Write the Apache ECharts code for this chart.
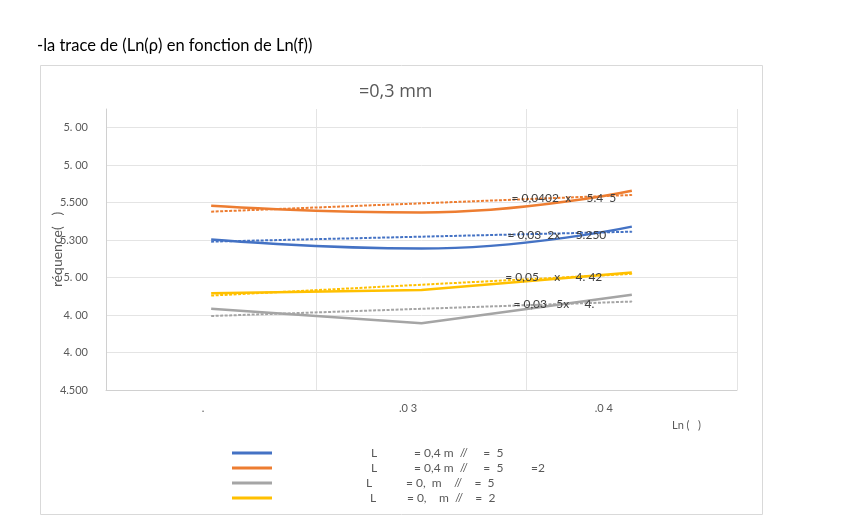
<!DOCTYPE html>
<html>
<head>
<meta charset="utf-8">
<script src="https://cdn.jsdelivr.net/npm/echarts@6/dist/echarts.min.js"></script>
<style>
  html, body { margin: 0; padding: 0; background: #fff; }
  #chart { width: 841px; height: 525px; }
</style>
</head>
<body>
<div id="chart"></div>
<script>
// categories (x) and tick labels, as they show up in the document
const categories = ['.', '.0 3', '.0 4']
const yTickLabels = ['4.500', '4. 00', '4. 00', '5. 00', '5.300', '5.500', '5. 00', '5. 00']

const seriesNames = [
  'L            = 0,4 m  //     =  5',
  'L            = 0,4 m  //     =  5         =2',
  'L           = 0,  m    //    =  5',
  'L          = 0,    m  //    =  2',
]
const seriesColors = ['#4472C4', '#ED7D31', '#A5A5A5', '#FFC000']

// measured values
const blueValues = [5.303, 5.255, 5.372]
const orangeValues = [5.483, 5.448, 5.564]
const grayValues = [4.934, 4.856, 5.008]
const yellowValues = [5.017, 5.034, 5.127]

// trend lines, value at first and last category
const blueTrend = [5.292, 5.345]
const orangeTrend = [5.452, 5.541]
const grayTrend = [4.895, 4.972]
const yellowTrend = [5.004, 5.120]

const trendLabels = [
  '= 0,03  2x     5.250',
  '= 0,0402  x     5.4  5',
  '= 0,03   5x     4.',
  '= 0,05     x     4. 42',
]

const values = [blueValues, orangeValues, grayValues, yellowValues]
const trends = [blueTrend, orangeTrend, grayTrend, yellowTrend]
const smooth = [true, true, false, false]
const labelShift = [25, 15, 37, 29]
const xLabelPad = [16, 27, 56]
const legendPad = [94, 94, 89, 93]

const font = 'Lato, "Noto Sans", sans-serif'
const myChart = echarts.init(document.getElementById('chart'))

const series = []
values.forEach((v, i) => {
  series.push({
    name: seriesNames[i],
    type: 'line',
    data: v,
    smooth: smooth[i],
    symbol: 'none',
    color: seriesColors[i],
    lineStyle: { width: 2.5, color: seriesColors[i] },
    z: 3,
  })
})
trends.forEach((t, i) => {
  series.push({
    name: 'trend' + i,
    type: 'line',
    data: [
      [0, t[0]],
      {
        value: [2, t[1]],
        symbol: 'circle',
        symbolSize: 1,
        label: {
          show: true,
          position: 'left',
          distance: labelShift[i],
          offset: [0, 3],
          formatter: trendLabels[i],
          color: '#404040',
          fontSize: 12,
          fontFamily: font,
        },
      },
    ],
    symbol: 'none',
    color: seriesColors[i],
    lineStyle: { width: 2, type: [3, 1.5], color: seriesColors[i] },
    silent: true,
    z: 4,
  })
})

const option = {
  animation: false,
  title: [
    {
      text: '-la trace de (Ln(ρ) en fonction de Ln(f))',
      left: 32,
      top: 32,
      textStyle: { color: '#000', fontSize: 16.5, fontWeight: 'normal', fontFamily: font },
    },
    {
      text: '=0,3 mm',
      left: 354,
      top: 78,
      textStyle: { color: '#595959', fontSize: 18, fontWeight: 'normal', fontFamily: '"Open Sans", sans-serif' },
    },
  ],
  grid: { left: 106, right: 104, top: 109, bottom: 135 },
  legend: {
    orient: 'vertical',
    left: 232,
    top: 447,
    padding: 0,
    itemWidth: 40,
    itemHeight: 13,
    itemGap: 3,
    icon: 'path://M0,0 L40,0 L40,3 L0,3 Z',
    data: seriesNames.map((n, i) => ({
      name: n,
      textStyle: { padding: [0, 0, 0, legendPad[i]] },
    })),
    textStyle: { color: '#595959', fontSize: 12, fontFamily: font },
    selectedMode: false,
  },
  xAxis: {
    type: 'category',
    data: categories.map((c, i) => ({ value: c, textStyle: { padding: [0, xLabelPad[i], 0, 0] } })),
    boundaryGap: true,
    axisLine: { lineStyle: { color: '#d0d0d0' } },
    axisTick: { show: false },
    axisLabel: { color: '#595959', fontSize: 11, margin: 13, fontFamily: font },
    splitLine: { show: true, lineStyle: { color: '#e4e4e4' } },
  },
  yAxis: {
    type: 'value',
    min: 4.5,
    max: 6.0,
    interval: 0.2,
    name: 'réquence(   )',
    nameLocation: 'middle',
    nameGap: 42,
    nameRotate: 90,
    nameMoveOverlap: false,
    nameTextStyle: { color: '#595959', fontSize: 14, fontFamily: font },
    axisLine: { show: true, lineStyle: { color: '#d0d0d0' } },
    axisTick: { show: false },
    axisLabel: {
      color: '#595959',
      fontSize: 11,
      margin: 18,
      fontFamily: font,
      showMaxLabel: false,
      formatter: (v) => yTickLabels[Math.round((v - 4.5) / 0.2)] || '',
    },
    splitLine: { show: true, showMaxLine: false, lineStyle: { color: '#e4e4e4' } },
  },
  graphic: [
    {
      type: 'rect',
      shape: { x: 40.5, y: 65.5, width: 722, height: 449 },
      style: { fill: 'none', stroke: '#d9d9d9', lineWidth: 1 },
      silent: true,
    },
    {
      type: 'text',
      left: 672,
      top: 420,
      style: { text: 'Ln (   )', fill: '#595959', fontSize: 11, fontFamily: font },
    },
  ],
  series: series,
}

option && myChart.setOption(option)
</script>
</body>
</html>
